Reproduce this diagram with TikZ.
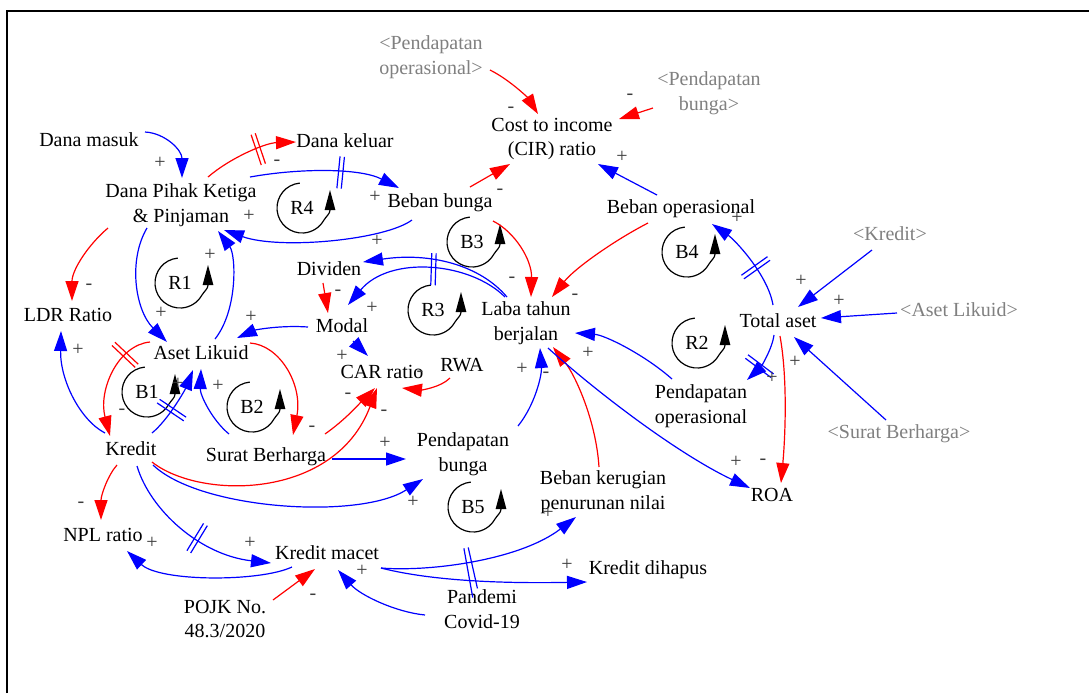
\documentclass[tikz,border=0pt]{standalone}
\usepackage{fontspec}
\setmainfont{Liberation Serif}
\usetikzlibrary{arrows.meta,calc,decorations.markings}
\definecolor{cldblue}{RGB}{0,0,255}
\definecolor{cldred}{RGB}{255,0,0}
\definecolor{signgray}{RGB}{60,60,60}
\definecolor{shadowgray}{RGB}{128,128,128}
\tikzset{
  var/.style={font=\fontsize{10}{12.25}\selectfont, align=center, inner sep=0pt},
  shadowvar/.style={var, text=shadowgray},
  sign/.style={font=\fontsize{10}{12}\selectfont, text=signgray, inner sep=0pt},
  link/.style={line width=0.6pt, -{Triangle[length=10pt,width=6.5pt]}},
  bluelink/.style={link, cldblue},
  redlink/.style={link, cldred},
  delaymark/.style={postaction={decorate, decoration={markings,
      mark=at position #1 with {\draw[-, line width=0.6pt] (-1.1pt,-8pt) -- (-1.1pt,8pt) (1.1pt,-8pt) -- (1.1pt,8pt);}}}},
  longdelaymark/.style={postaction={decorate, decoration={markings,
      mark=at position #1 with {\draw[-, line width=0.6pt] (-1.6pt,-18pt) -- (-1.1pt,7pt) (1.6pt,-14pt) -- (1.1pt,7pt);}}}},
}
% loop identifier: circular arrow with its label
\newcommand\cldloop[3]{%
  \node[var] (#1) at (#2) {#3};
  \draw[line width=0.6pt] ($(#1)+(95:12.5pt)$) arc[start angle=95, end angle=330, radius=12.5pt]
     .. controls +(60:2.5pt) and +(-90:2pt) .. ($(#1)+(14pt,-1pt)$);
  \fill ($(#1)+(11.3pt,-1pt)$) -- ($(#1)+(16.7pt,-1pt)$) -- ($(#1)+(14pt,9pt)$) -- cycle;
}
\begin{document}
\begin{tikzpicture}[x=0.5pt, y=-0.5pt]
\fill[white] (0,0) rectangle (1089,693);
\useasboundingbox (0,0) rectangle (1089,693);
\draw[line width=1pt] (7,693) -- (7,11) -- (1089,11);

% variables
\node[var] (dm) at (89,140) {Dana masuk};
\node[var] (dpk) at (181,205) {Dana Pihak Ketiga\\\& Pinjaman};
\node[var] (dk) at (345,141) {Dana keluar};
\node[var] (bb) at (440,203) {Beban bunga};
\node[var] (cir) at (552,139) {Cost to income\\(CIR) ratio};
\node[shadowvar] (gpo) at (431,57) {<Pendapatan\\operasional>};
\node[shadowvar] (gpb) at (709,93) {<Pendapatan\\bunga>};
\node[var] (bo) at (681,209) {Beban operasional};
\node[shadowvar] (gkr) at (890,234) {<Kredit>};
\node[var] (ta) at (778,321) {Total aset};
\node[shadowvar] (gal) at (959,310) {<Aset Likuid>};
\node[var] (po) at (701,406) {Pendapatan\\operasional};
\node[shadowvar] (gsb) at (899,434) {<Surat Berharga>};
\node[var] (roa) at (772,495) {ROA};
\node[var] (laba) at (526,323) {Laba tahun\\berjalan};
\node[var] (div) at (329,269) {Dividen};
\node[var] (modal) at (342,326) {Modal};
\node[var] (car) at (382,372) {CAR ratio};
\node[var] (rwa) at (462,365) {RWA};
\node[var] (ldr) at (68,315) {LDR Ratio};
\node[var] (al) at (201,353) {Aset Likuid};
\node[var] (kr) at (131,449) {Kredit};
\node[var] (sb) at (266,457) {Surat Berharga};
\node[var] (npl) at (103,535) {NPL ratio};
\node[var] (km) at (327,553) {Kredit macet};
\node[var] (pojk) at (225,619) {POJK No.\\48.3/2020};
\node[var] (pb) at (463,454) {Pendapatan\\bunga};
\node[var] (bk) at (603,492) {Beban kerugian\\penurunan nilai};
\node[var] (kd) at (648,570) {Kredit dihapus};
\node[var] (pan) at (482,609) {Pandemi\\Covid-19};

% loops
\cldloop{R4}{302,208}{R4}
\cldloop{R1}{180,283}{R1}
\cldloop{B3}{472,242}{B3}
\cldloop{B4}{687,252}{B4}
\cldloop{R2}{697,343}{R2}
\cldloop{R3}{433,310}{R3}
\cldloop{B1}{147,392}{B1}
\cldloop{B2}{252,407}{B2}
\cldloop{B5}{473,507}{B5}

% causal links
\draw[bluelink] ($(dm)+(56,-8)$) .. controls (165,133) and (182,150) .. ($(dpk)+(1,-27)$);
\draw[redlink, delaymark=0.6] ($(dpk)+(27,-28)$) .. controls (230,158) and (265,143) .. ($(dk)+(-49,1)$);
\draw[bluelink, delaymark=0.6] ($(dpk)+(69,-28)$) .. controls (300,168) and (360,168) .. ($(bb)+(-41,-15)$);
\draw[bluelink] ($(bb)+(-28,17)$) .. controls (385,240) and (280,250) .. ($(dpk)+(43,25)$);
\draw[redlink] ($(dpk)+(-73,23)$) .. controls (88,245) and (72,270) .. ($(ldr)+(4,-14)$);
\draw[bluelink] ($(dpk)+(-34,23)$) .. controls (128,260) and (135,310) .. ($(al)+(-34,-11)$);
\draw[bluelink] ($(al)+(14,-14)$) .. controls (238,310) and (236,255) .. ($(dpk)+(37,26)$);
\draw[bluelink] ($(modal)+(-34,1)$) .. controls (280,325) and (255,330) .. ($(al)+(36,-15)$);
\draw[redlink] ($(div)+(-6,14)$) -- ($(modal)+(-14,-13)$);
\draw[bluelink, delaymark=0.45] ($(laba)+(-21,-26)$) .. controls (470,262) and (390,255) .. ($(modal)+(6,-21)$);
\draw[bluelink] ($(laba)+(-19,-26)$) .. controls (480,265) and (430,252) .. ($(div)+(34,-7)$);
\draw[bluelink] ($(modal)+(11,15)$) -- ($(car)+(-14,-16)$);
\draw[redlink] ($(rwa)+(-12,13)$) .. controls (440,388) and (420,390) .. ($(car)+(20,16)$);
\draw[redlink, delaymark=0.25] ($(al)+(-51,-11)$) .. controls (118,345) and (98,390) .. ($(kr)+(-21,-13)$);
\draw[bluelink, delaymark=0.4] ($(kr)+(21,-16)$) .. controls (168,420) and (185,390) .. ($(al)+(-8,17)$);
\draw[bluelink] ($(sb)+(-37,-23)$) .. controls (212,420) and (200,395) .. ($(al)+(0,16)$);
\draw[redlink] ($(al)+(49,-10)$) .. controls (280,345) and (303,385) .. ($(sb)+(27,-22)$);
\draw[bluelink] ($(kr)+(-26,-16)$) .. controls (80,420) and (60,380) .. ($(ldr)+(-7,16)$);
\draw[redlink] ($(kr)+(-14,16)$) .. controls (108,475) and (101,495) .. ($(npl)+(-2,-15)$);
\draw[bluelink, delaymark=0.55] ($(kr)+(6,17)$) .. controls (150,510) and (200,555) .. ($(km)+(-56,10)$);
\draw[bluelink] ($(km)+(-35,14)$) .. controls (260,582) and (160,582) .. ($(npl)+(24,16)$);
\draw[redlink] ($(pojk)+(48,-19)$) -- ($(km)+(-12,16)$);
\draw[bluelink] ($(pan)+(-57,6)$) .. controls (395,612) and (360,595) .. ($(km)+(11,17)$);
\draw[bluelink, longdelaymark=0.43] ($(km)+(54,15)$) .. controls (430,572) and (520,560) .. ($(bk)+(-27,25)$);
\draw[bluelink] ($(km)+(54,15)$) .. controls (420,578) and (480,584) .. ($(kd)+(-61,12)$);
\draw[bluelink] ($(sb)+(66,2)$) -- ($(pb)+(-57,5)$);
\draw[bluelink] ($(kr)+(22,16)$) .. controls (200,510) and (360,520) .. ($(pb)+(-40,25)$);
\draw[redlink] ($(kr)+(21,13)$) .. controls (200,500) and (335,500) .. ($(car)+(-5,16)$);
\draw[redlink] ($(sb)+(59,-23)$) .. controls (345,420) and (360,403) .. ($(car)+(-7,16)$);
\draw[redlink] ($(bb)+(30,-16)$) -- ($(cir)+(-42,25)$);
\draw[redlink] ($(gpo)+(59,13)$) .. controls (510,80) and (528,98) .. ($(cir)+(-14,-25)$);
\draw[redlink] ($(gpb)+(-56,15)$) -- ($(cir)+(67,-20)$);
\draw[bluelink] ($(bo)+(-24,-14)$) -- ($(cir)+(46,25)$);
\draw[redlink] ($(bb)+(53,18)$) .. controls (515,232) and (532,260) .. ($(laba)+(5,-26)$);
\draw[redlink] ($(bo)+(-33,14)$) .. controls (615,240) and (575,268) .. ($(laba)+(26,-26)$);
\draw[bluelink] ($(po)+(-29,-27)$) .. controls (645,355) and (605,335) .. ($(laba)+(49,10)$);
\draw[bluelink] ($(pb)+(55,-28)$) .. controls (535,405) and (542,375) .. ($(laba)+(14,25)$);
\draw[redlink] ($(bk)+(-4,-25)$) .. controls (596,420) and (575,375) .. ($(laba)+(27,24)$);
\draw[bluelink] ($(laba)+(22,25)$) .. controls (600,395) and (680,455) .. ($(roa)+(-22,-7)$);
\draw[redlink] ($(ta)+(2,15)$) .. controls (788,380) and (785,440) .. ($(roa)+(9,-12)$);
\draw[bluelink, delaymark=0.65] ($(ta)+(-4,14)$) .. controls (772,350) and (760,368) .. ($(po)+(46,-26)$);
\draw[bluelink, delaymark=0.4] ($(ta)+(-5,-16)$) .. controls (768,275) and (735,240) .. ($(bo)+(31,15)$);
\draw[bluelink] ($(gkr)+(-18,16)$) -- ($(ta)+(20,-14)$);
\draw[bluelink] ($(gal)+(-62,3)$) -- ($(ta)+(43,-3)$);
\draw[bluelink] ($(gsb)+(-13,-14)$) -- ($(ta)+(16,16)$);

% polarities
\node[sign] (p1) at (160,163) {+};
\node[sign] (p2) at (277,163) {-};
\node[sign] (p3) at (375,197) {+};
\node[sign] (p4) at (249,216) {+};
\node[sign] (p5) at (89,287) {-};
\node[sign] (p6) at (161,313) {+};
\node[sign] (p7) at (210,255) {+};
\node[sign] (p8) at (251,317) {+};
\node[sign] (p9) at (338,293) {-};
\node[sign] (p10) at (377,241) {+};
\node[sign] (p11) at (372,308) {+};
\node[sign] (p12) at (342,356) {+};
\node[sign] (p13) at (420,374) {-};
\node[sign] (p14) at (122,412) {-};
\node[sign] (p15) at (178,384) {+};
\node[sign] (p16) at (218,386) {+};
\node[sign] (p17) at (312,429) {-};
\node[sign] (p18) at (78,350) {+};
\node[sign] (p19) at (81,505) {-};
\node[sign] (p20) at (250,543) {+};
\node[sign] (p21) at (152,543) {+};
\node[sign] (p22) at (313,597) {-};
\node[sign] (p23) at (362,571) {+};
\node[sign] (p24) at (548,513) {+};
\node[sign] (p25) at (567,565) {+};
\node[sign] (p26) at (385,443) {+};
\node[sign] (p27) at (413,502) {+};
\node[sign] (p28) at (348,396) {-};
\node[sign] (p29) at (384,413) {-};
\node[sign] (p30) at (500,192) {-};
\node[sign] (p31) at (511,110) {-};
\node[sign] (p32) at (630,97) {-};
\node[sign] (p33) at (622,157) {+};
\node[sign] (p34) at (512,280) {-};
\node[sign] (p35) at (575,297) {-};
\node[sign] (p36) at (588,353) {+};
\node[sign] (p37) at (522,369) {+};
\node[sign] (p38) at (546,375) {-};
\node[sign] (p39) at (736,462) {+};
\node[sign] (p40) at (763,462) {-};
\node[sign] (p41) at (772,378) {+};
\node[sign] (p42) at (737,218) {+};
\node[sign] (p43) at (801,281) {+};
\node[sign] (p44) at (839,301) {+};
\node[sign] (p45) at (795,362) {+};
\end{tikzpicture}
\end{document}
